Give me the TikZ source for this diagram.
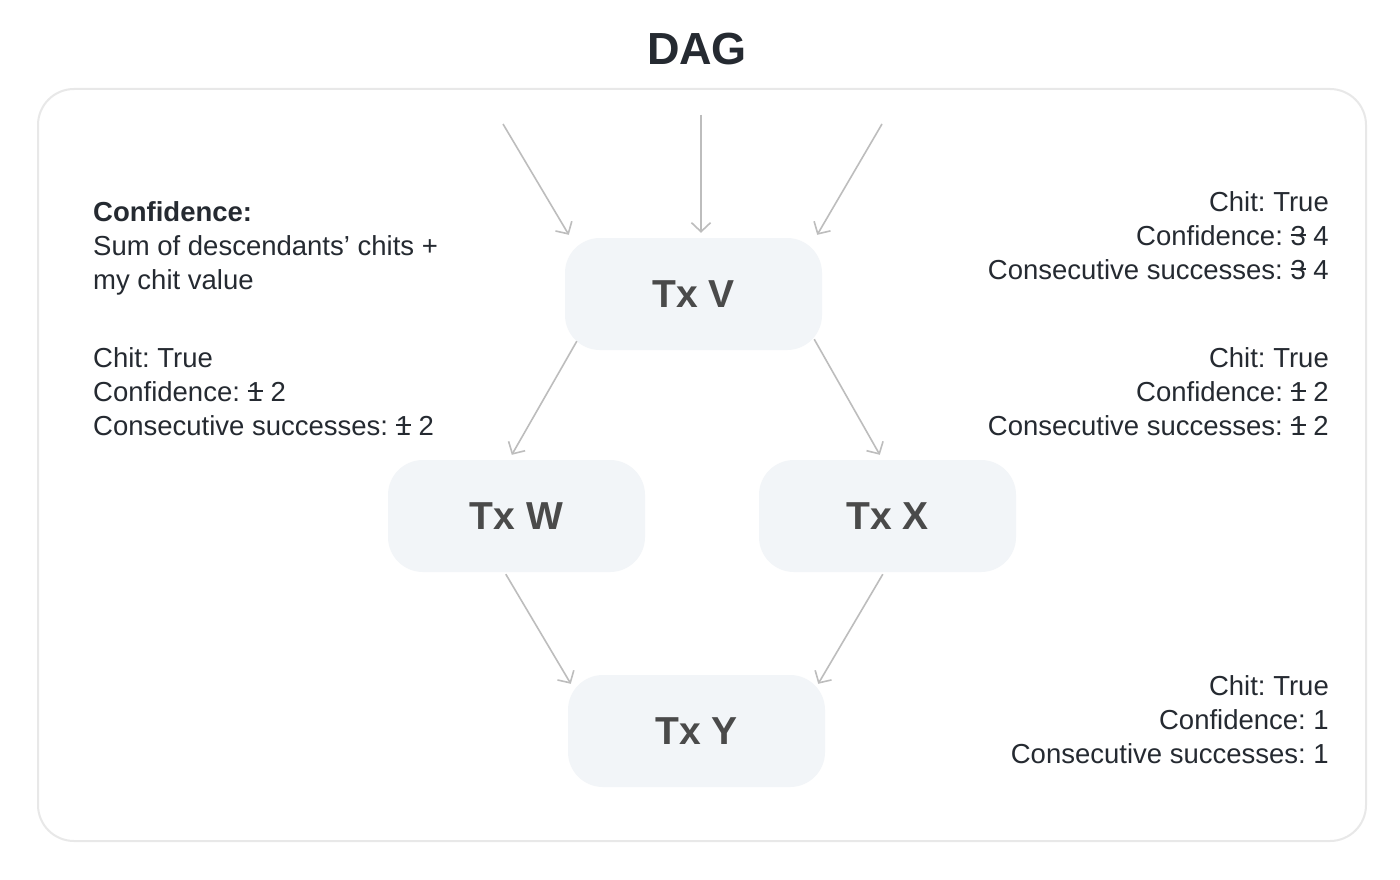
\documentclass[tikz,border=0pt]{standalone}
\usepackage{fontspec}
\setmainfont{Liberation Sans}
\usetikzlibrary{arrows.meta}
\definecolor{txtdark}{HTML}{252A31}
\definecolor{nodefill}{HTML}{F2F5F8}
\definecolor{nodetxt}{HTML}{4A4A4A}
\definecolor{edgegray}{HTML}{BDBDBD}
\definecolor{framegray}{HTML}{E8E8E8}
\newcommand\strikeout[1]{\setbox0\hbox{#1}\rlap{\rule[0.33em]{\wd0}{0.065em}}\box0\relax}
\tikzset{
  txnode/.style={fill=nodefill, rounded corners=35pt, minimum width=257pt, minimum height=112pt,
    inner sep=0pt, text=nodetxt, font=\fontsize{39}{44}\selectfont\bfseries},
  edge/.style={draw=edgegray, line width=1.6pt, -{Straight Barb[length=9pt,width=19pt,line width=1.6pt]}},
  info/.style={text=txtdark, font=\fontsize{27.5}{34}\selectfont\frenchspacing, inner sep=0pt},
}
\begin{document}
\begin{tikzpicture}[x=1pt,y=-1pt]
\useasboundingbox (0,0) rectangle (1400,880);
\fill[white] (0,0) rectangle (1400,880);
\node[text=txtdark, font=\fontsize{45}{50}\selectfont\bfseries] (title) at (697,49) {DAG};
\draw[framegray, line width=2pt, rounded corners=36pt] (38,89) rectangle (1366,841);
\node[txnode] (V) at (693.5,294) {Tx V};
\node[txnode] (W) at (516.5,516) {Tx W};
\node[txnode] (X) at (887.5,516) {Tx X};
\node[txnode] (Y) at (696.5,731) {Tx Y};
\coordinate (in1) at (503,124);
\coordinate (in2) at (701,115);
\coordinate (in3) at (882,124);
\draw[edge] (in1) -- ([xshift=4pt,yshift=3pt]V.north west);
\draw[edge] (in2) -- ([xshift=7.5pt,yshift=5pt]V.north);
\draw[edge] (in3) -- ([xshift=-5pt,yshift=3pt]V.north east);
\draw[edge] ([xshift=12pt,yshift=9pt]V.south west) -- ([xshift=124pt,yshift=5pt]W.north west);
\draw[edge] ([xshift=-8pt,yshift=11pt]V.south east) -- ([xshift=121pt,yshift=5pt]X.north west);
\draw[edge] ([xshift=118pt,yshift=-2pt]W.south west) -- ([xshift=3pt,yshift=-9pt]Y.north west);
\draw[edge] ([xshift=124pt,yshift=-2pt]X.south west) -- ([xshift=-7pt,yshift=-9pt]Y.north east);
\node[info, anchor=north west, align=left] (conf) at (93,201) {\textbf{Confidence:}\\Sum of descendants’ chits +\\my chit value};
\node[info, anchor=north west, align=left] (winfo) at (93,347) {Chit: True\\Confidence: \strikeout{1} 2\\Consecutive successes: \strikeout{1} 2};
\node[info, anchor=north east, align=right] (vinfo) at (1329,191) {Chit: True\\Confidence: \strikeout{3} 4\\Consecutive successes: \strikeout{3} 4};
\node[info, anchor=north east, align=right] (xinfo) at (1329,347) {Chit: True\\Confidence: \strikeout{1} 2\\Consecutive successes: \strikeout{1} 2};
\node[info, anchor=north east, align=right] (yinfo) at (1329,675) {Chit: True\\Confidence: 1\\Consecutive successes: 1};
\end{tikzpicture}
\end{document}
